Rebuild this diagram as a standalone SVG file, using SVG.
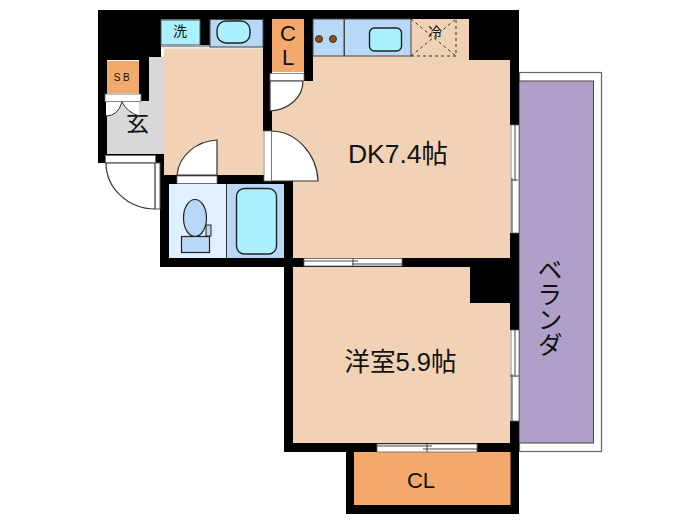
<svg xmlns="http://www.w3.org/2000/svg" width="700" height="525" viewBox="0 0 700 525">
<style>
.wall{fill:#000}
.floor{fill:#f2d2b5}
.cl{fill:#f2a96b}
.blue{fill:#b8d8f8;stroke:#444;stroke-width:1}
.pale{fill:#dff0ff}
.aqua{fill:#aaf0ff;stroke:#222;stroke-width:1.4}
.door{fill:#fff;stroke:#333;stroke-width:1.2}
.strip{fill:#fff;stroke:#666;stroke-width:.8}
.line{fill:none;stroke:#444;stroke-width:1}
text{font-family:"Liberation Sans","Noto Sans CJK JP",sans-serif;fill:#111}
</style>
<rect width="700" height="525" fill="#fff"/>
<g id="balcony">
<rect x="519.500" y="72.500" width="82" height="379" fill="#fff" stroke="#666" stroke-width="1.200"/>
<rect x="519" y="81" width="74.500" height="362" fill="#b09fc8" stroke="#444" stroke-width="1"/>
<text x="550" y="257" font-size="25" style="writing-mode:vertical-rl;font-family:'Noto Sans CJK JP',sans-serif" text-anchor="start">ベランダ</text>
</g>
<g id="walls">
<rect class="wall" x="98" y="10" width="421" height="9.500"/>
<rect class="wall" x="98" y="10" width="63" height="50"/>
<rect class="wall" x="98" y="60" width="9" height="103"/>
<rect class="wall" x="98" y="154" width="71" height="9"/>
<rect class="wall" x="139" y="57" width="10" height="45"/>
<rect class="wall" x="160" y="163" width="9" height="104"/>
<rect class="wall" x="200" y="19" width="10" height="30"/>
<rect class="wall" x="263" y="10" width="9" height="121"/>
<rect class="wall" x="304" y="19" width="9" height="62"/>
<rect class="wall" x="469" y="10" width="50" height="50"/>
<rect class="wall" x="510" y="10" width="9" height="115"/>
<rect class="wall" x="160" y="175" width="133" height="9"/>
<rect class="wall" x="284" y="175" width="9" height="277"/>
<rect class="wall" x="160" y="258" width="351" height="9"/>
<rect class="wall" x="470" y="258" width="41" height="45"/>
<rect class="wall" x="510" y="233" width="9" height="97"/>
<rect class="wall" x="510" y="421" width="9" height="93"/>
<rect class="wall" x="284" y="443" width="227" height="9"/>
<rect class="wall" x="346" y="443" width="8" height="71"/>
<rect class="wall" x="346" y="505" width="173" height="9"/>
</g>
<g id="hall">
<rect class="floor" x="164" y="49" width="99" height="126"/>
<path fill="#fff" stroke="#333" stroke-width="1.200" d="M217 140V175H177C179 155 197 141 217 140Z"/>
<rect class="strip" x="177" y="176" width="40" height="7.500"/>
</g>
<g id="entrance">
<path fill="#d8d8d8" d="M149 57H164V154H107V101H149Z"/>
<text x="137.500" y="131" font-size="23" text-anchor="middle">玄</text>
<path fill="#fff" d="M106 101V116Q118 116 122 102Q127 112 139 116V101Z"/>
<path fill="none" stroke="#333" d="M106 116Q118 116 122 102Q127 112 139 116"/>
<rect class="strip" x="105" y="94" width="36" height="7.500"/>
<rect class="strip" x="105.500" y="155.500" width="50" height="7.500"/>
<path fill="#fff" stroke="#333" stroke-width="1.200" d="M106 163H155V209C128 209 106 188 106 163Z"/>
<path fill="none" stroke="#555" d="M155 163H160V209H155"/>
</g>
<g id="storage-sb">
<rect class="cl" x="107" y="61" width="32" height="32"/>
<text x="123" y="81" font-size="10" text-anchor="middle" letter-spacing="2.500">SB</text>
</g>
<g id="laundry">
<rect x="161" y="20" width="39" height="25" fill="#aaf0ff" stroke="#555"/>
<text x="180" y="36" font-size="14" text-anchor="middle">洗</text>
<rect x="161" y="45" width="102" height="4" fill="#e8e8e8"/>
<path stroke="#555" d="M161 46H263"/>
</g>
<g id="basin">
<rect class="blue" x="210" y="19.500" width="53" height="27.500"/>
<rect class="aqua" x="217" y="21" width="33" height="22" rx="9"/>
</g>
<g id="closet-top">
<rect class="cl" x="272" y="19" width="32" height="53"/>
<text x="288" y="41" font-size="22" text-anchor="middle">C</text>
<text x="288" y="65" font-size="22" text-anchor="middle">L</text>
<rect class="strip" x="270" y="73.500" width="34" height="7.500"/>
</g>
<g id="dk">
<path class="floor" d="M313 19H469V60H510V258H293V181H272V81H313Z"/>
<path class="door" d="M270 81H303C303 98 288 110 270 111Z"/>
<path class="door" d="M271 131C296 131 317 154 318 181H271Z"/>
<rect class="strip" x="264" y="131" width="7.500" height="50"/>
<text x="398" y="163" font-size="26.500" text-anchor="middle">DK7.4帖</text>
</g>
<g id="kitchen">
<rect class="blue" x="313" y="19" width="31" height="37"/>
<circle cx="319" cy="39" r="3.500" fill="#9a4b10" stroke="#333"/>
<circle cx="333" cy="39" r="3.500" fill="#9a4b10" stroke="#333"/>
<rect class="blue" x="344.500" y="19" width="66.500" height="37"/>
<rect class="aqua" x="369.500" y="28" width="32" height="23" rx="5"/>
</g>
<g id="fridge">
<path fill="none" stroke="#333" stroke-dasharray="3 3" d="M411 56H456V19M411 56L456 19M411 19L456 56"/>
<text x="435" y="37" font-size="14" text-anchor="middle">冷</text>
</g>
<g id="toilet">
<rect class="pale" x="169" y="184" width="58" height="74"/>
<ellipse cx="195" cy="218" rx="11.500" ry="18.500" fill="#b8d8f8" stroke="#222" stroke-width="1.200"/>
<rect x="181.500" y="236.500" width="28" height="16" fill="#b8d8f8" stroke="#222" stroke-width="1.200"/>
<rect x="206" y="225" width="5" height="11" fill="#b8d8f8" stroke="#222"/>
</g>
<g id="bath">
<rect x="226.500" y="184" width="57.500" height="74" fill="#b8d8f8"/>
<path stroke="#333" d="M226.500 184V258"/>
<rect class="aqua" x="236.500" y="188.500" width="40" height="65.500" rx="8"/>
</g>
<g id="room">
<path class="floor" d="M293 267H470V303H510V443H293Z"/>
<text x="400.500" y="371" font-size="25.600" text-anchor="middle">洋室5.9帖</text>
</g>
<g id="closet-bottom">
<rect class="cl" x="354" y="452" width="156.500" height="53"/>
<text x="421" y="488" font-size="22" text-anchor="middle">CL</text>
</g>
<g id="connectors">
<g id="window-dk">
<rect class="strip" x="511" y="125" width="8" height="108"/>
<path class="line" d="M515 125V181M512 178V233M511 180H518"/>
</g>
<g id="window-room">
<rect class="strip" x="511" y="330" width="8" height="91"/>
<path class="line" d="M515 330V377M512 374V421M510 376H519"/>
</g>
<g id="door-dk-room">
<rect class="strip" x="304" y="258.500" width="98" height="7.500"/>
<path class="line" d="M304 261H358M352 264H402M353 258V266"/>
</g>
<g id="door-room-cl">
<rect class="strip" x="377" y="444" width="100" height="8"/>
<path class="line" d="M377 446H432M423 449H477M427 444V452"/>
</g>
</g>
</svg>
